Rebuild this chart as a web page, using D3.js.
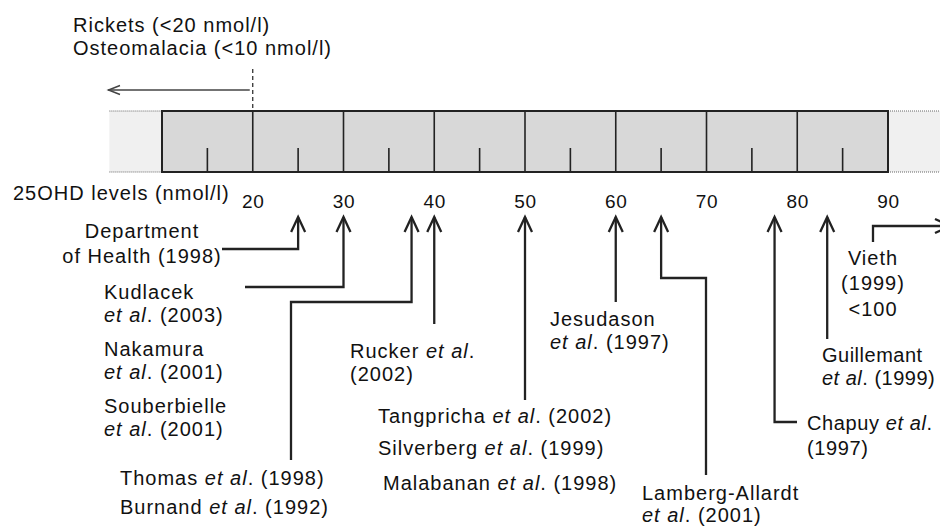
<!DOCTYPE html>
<html><head><meta charset="utf-8">
<script src="https://cdn.jsdelivr.net/npm/d3@7"></script>
<style>body{margin:0;background:#fff} svg{display:block}</style>
</head><body><svg id="c" width="940" height="527"></svg>
<script>
// ---- data ----
const scaleDomain = [10, 90];
const extensionLeft = [4.2, 10];
const extensionRight = [90, 96];
const majorTicks = [20, 30, 40, 50, 60, 70, 80, 90];
const minorTicks = [15, 25, 35, 45, 55, 65, 75, 85];
const tickLabels = ["20", "30", "40", "50", "60", "70", "80", "90"];
const thresholdValue = 20;
const thresholdLabels = ["Rickets (<20 nmol/l)", "Osteomalacia (<10 nmol/l)"];
const axisTitle = "25OHD levels (nmol/l)";
const studyKeys = ["doh", "kudlacek", "thomas", "rucker", "tangpricha", "jesudason", "lamberg", "chapuy", "guillemant", "vieth"];
const studyValues = [25, 30, 37.5, 40, 50, 60, 65, 77.5, 83.3, 100];
const studyLabels = [
  ["Department", "of Health (1998)"],
  ["Kudlacek", "*et al*. (2003)", "Nakamura", "*et al*. (2001)", "Souberbielle", "*et al*. (2001)"],
  ["Thomas *et al*. (1998)", "Burnand *et al*. (1992)"],
  ["Rucker *et al*.", "(2002)"],
  ["Tangpricha *et al*. (2002)", "Silverberg *et al*. (1999)", "Malabanan *et al*. (1998)"],
  ["Jesudason", "*et al*. (1997)"],
  ["Lamberg-Allardt", "*et al*. (2001)"],
  ["Chapuy *et al*.", "(1997)"],
  ["Guillemant", "*et al*. (1999)"],
  ["Vieth", "(1999)", "<100"]
];

// ---- layout ----
const svg = d3.select("#c");
const x = d3.scaleLinear().domain(scaleDomain).range([162, 888]);
const boxTop = 111, boxBot = 172, tipY = 217;
const ink = "#222";
const FONT = "'Liberation Sans', Arial, Helvetica, sans-serif";

// extension (light) boxes
[extensionLeft, extensionRight].forEach(ext => {
  const g = svg.append("g");
  g.append("rect").attr("x", x(ext[0])).attr("y", boxTop)
    .attr("width", x(ext[1]) - x(ext[0])).attr("height", boxBot - boxTop)
    .attr("fill", "#f0f0f0");
  [boxTop, boxBot].forEach(yy => g.append("line")
    .attr("x1", x(ext[0])).attr("x2", x(ext[1])).attr("y1", yy).attr("y2", yy)
    .attr("stroke", "#666").attr("stroke-width", 1).attr("stroke-dasharray", "1,1"));
});

// main box
svg.append("rect").attr("x", x(scaleDomain[0])).attr("y", boxTop)
  .attr("width", x(scaleDomain[1]) - x(scaleDomain[0])).attr("height", boxBot - boxTop)
  .attr("fill", "#d8d8d8").attr("stroke", ink).attr("stroke-width", 2);

// major dividers
svg.append("g").selectAll("line").data(majorTicks.filter(v => v < scaleDomain[1]))
  .join("line").attr("x1", d => x(d)).attr("x2", d => x(d))
  .attr("y1", boxTop).attr("y2", boxBot).attr("stroke", ink).attr("stroke-width", 1.6);
// minor ticks
svg.append("g").selectAll("line").data(minorTicks)
  .join("line").attr("x1", d => x(d)).attr("x2", d => x(d))
  .attr("y1", 148).attr("y2", boxBot).attr("stroke", ink).attr("stroke-width", 1.6);

// tick labels via axis
const axis = d3.axisBottom(x).tickValues(majorTicks)
  .tickFormat((d, i) => tickLabels[i]).tickSize(0).tickPadding(0);
const ag = svg.append("g").attr("transform", "translate(0,194.5)").call(axis);
ag.select(".domain").remove();
ag.selectAll("text").attr("font-family", FONT).attr("font-size", 19)
  .attr("letter-spacing", "0.8px").attr("fill", "#111");

// axis title
svg.append("text").attr("x", 13).attr("y", 200).text(axisTitle)
  .attr("font-family", FONT).attr("font-size", 20).attr("letter-spacing", "1px").attr("fill", "#111");

// threshold labels
thresholdLabels.forEach((t, i) => svg.append("text").attr("x", 73).attr("y", 32 + i * 23).text(t)
  .attr("font-family", FONT).attr("font-size", 20).attr("letter-spacing", "1px").attr("fill", "#111"));

// dashed threshold line + left arrow
svg.append("line").attr("x1", x(thresholdValue)).attr("x2", x(thresholdValue))
  .attr("y1", 69).attr("y2", boxTop).attr("stroke", ink).attr("stroke-width", 1.2)
  .attr("stroke-dasharray", "4,3");
svg.append("line").attr("x1", x(thresholdValue) - 3).attr("x2", 108).attr("y1", 90).attr("y2", 90)
  .attr("stroke", "#444").attr("stroke-width", 1.5);
svg.append("path").attr("d", "M120,85.5L108.5,90L120,94.5").attr("fill", "none")
  .attr("stroke", "#444").attr("stroke-width", 1.5);

// arrow routing (layout only)
const routes = {
  doh: v => [[x(v), tipY], [x(v), 249], [222, 249]],
  kudlacek: v => [[x(v), tipY], [x(v), 287], [245, 287]],
  thomas: v => [[x(v), tipY], [x(v), 302], [291, 302], [291, 460]],
  rucker: v => [[x(v), tipY], [x(v), 324]],
  tangpricha: v => [[x(v), tipY], [x(v), 400]],
  jesudason: v => [[x(v), tipY], [x(v), 302]],
  lamberg: v => [[x(v), tipY], [x(v), 278], [706, 278], [706, 475]],
  chapuy: v => [[x(v), tipY], [x(v), 422], [797, 422]],
  guillemant: v => [[x(v), tipY], [x(v), 339]],
  vieth: v => [[873, 242], [873, 226], [Math.min(x(v), 950), 226]]
};
const labelPos = {
  doh: {x: 142, anchor: "middle", ys: [238, 263]},
  kudlacek: {x: 104, anchor: "start", ys: [299, 322, 356, 379, 413, 436]},
  thomas: {x: 120, anchor: "start", ys: [485, 514]},
  rucker: {x: 350, anchor: "start", ys: [358, 381]},
  tangpricha: {x: 378, anchor: "start", ys: [423, 455, 490], dx: [0, 0, 5]},
  jesudason: {x: 550, anchor: "start", ys: [326, 349]},
  lamberg: {x: 642, anchor: "start", ys: [500, 522]},
  chapuy: {x: 807, anchor: "start", ys: [430, 455], ls: 0.6},
  guillemant: {x: 822, anchor: "start", ys: [362, 385], ls: 0.5},
  vieth: {x: 873, anchor: "middle", ys: [265, 290, 316]}
};

const line = d3.line();
const ag2 = svg.append("g");
studyKeys.forEach((k, i) => {
  const v = studyValues[i];
  const pts = routes[k](v);
  ag2.append("path").attr("d", line(pts)).attr("fill", "none")
    .attr("stroke", ink).attr("stroke-width", 2.3);
  let head;
  if (k === "vieth") {
    const p = pts[pts.length - 1];
    head = [[p[0] - 15, p[1] - 7], p, [p[0] - 15, p[1] + 7]];
  } else {
    const p = pts[0];
    head = [[p[0] - 7, p[1] + 15], p, [p[0] + 7, p[1] + 15]];
  }
  ag2.append("path").attr("d", line(head)).attr("fill", "none")
    .attr("stroke", ink).attr("stroke-width", 2.3);

  const lp = labelPos[k];
  studyLabels[i].forEach((ln, j) => {
    const t = svg.append("text").attr("x", lp.x + (lp.dx ? lp.dx[j] : 0)).attr("y", lp.ys[j])
      .attr("text-anchor", lp.anchor).attr("font-family", FONT).attr("font-size", 20)
      .attr("letter-spacing", (lp.ls != null ? lp.ls : 1) + "px").attr("fill", "#111");
    ln.split("*").forEach((seg, s) => {
      if (!seg) return;
      t.append("tspan").text(seg).attr("font-style", s % 2 === 1 ? "italic" : "normal");
    });
  });
});
</script></body></html>
